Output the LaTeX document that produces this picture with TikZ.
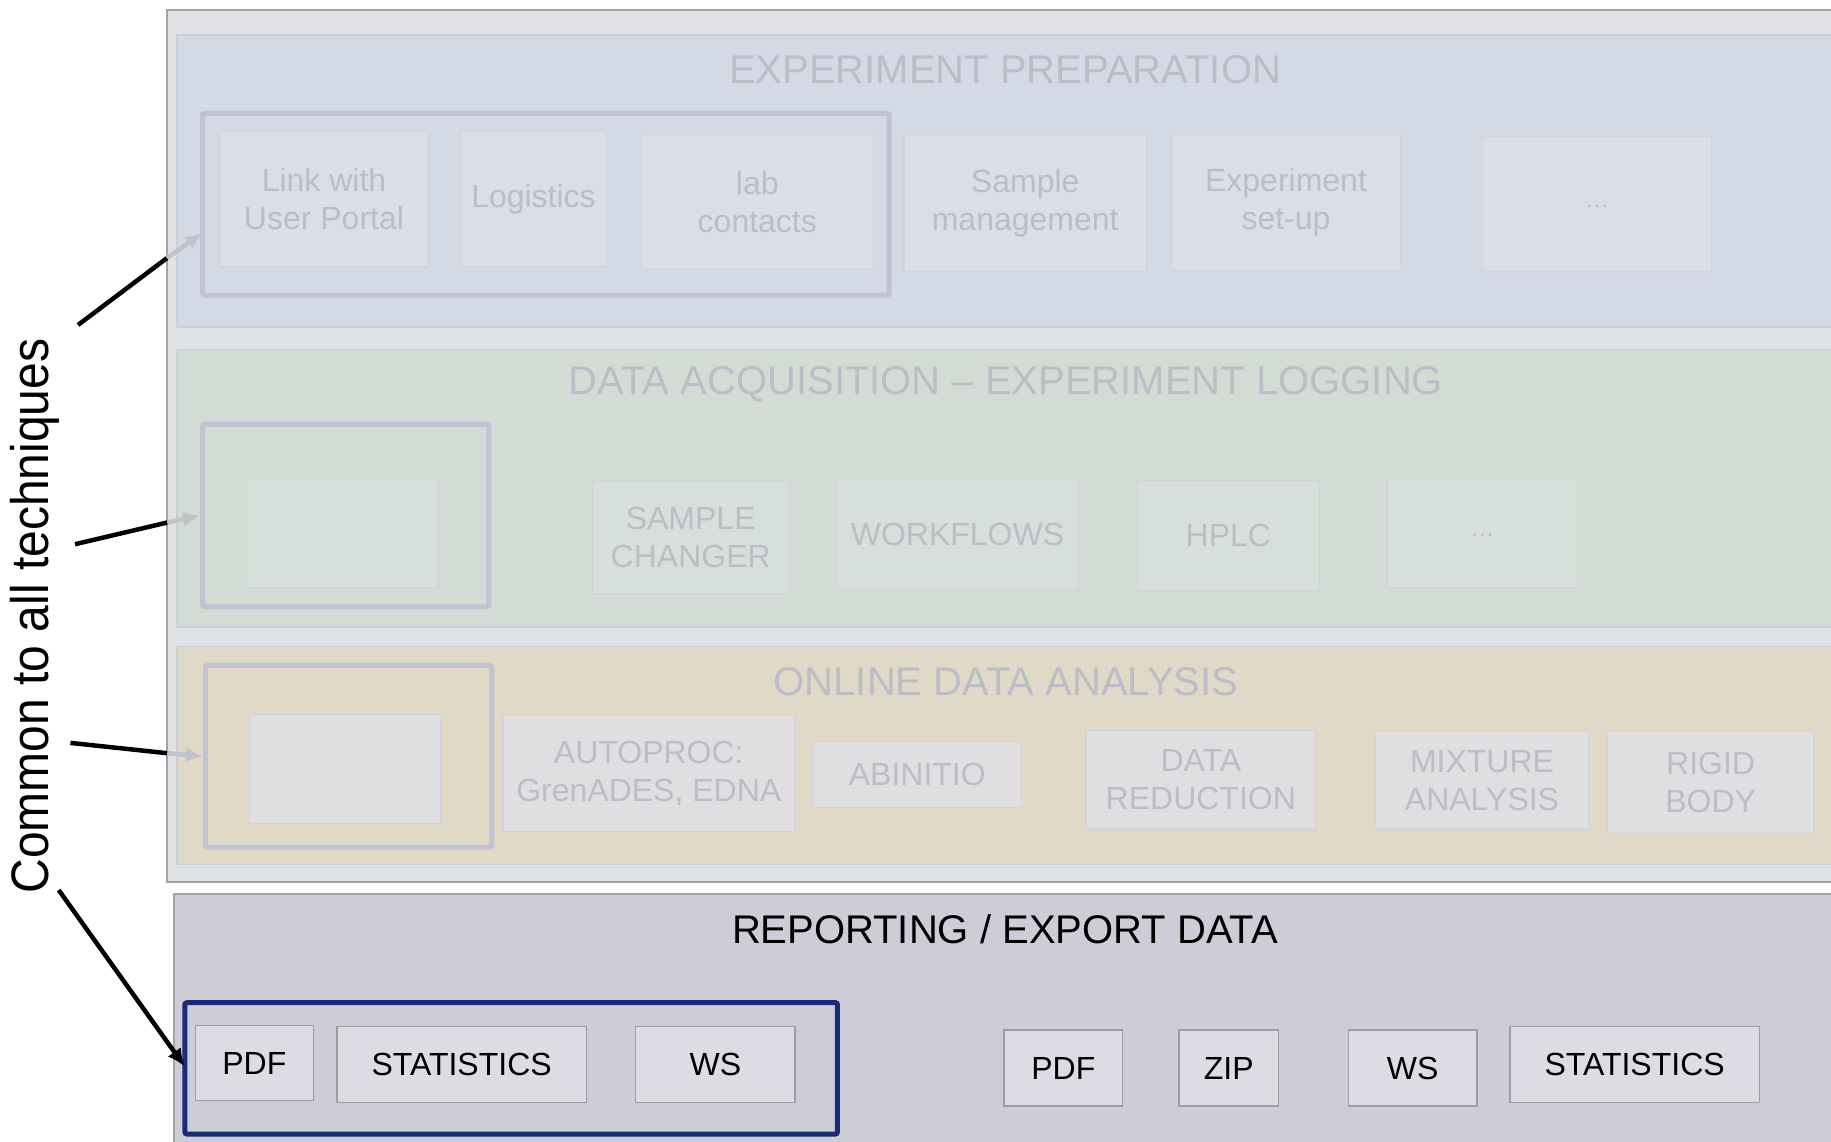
\documentclass[tikz,border=0pt]{standalone}
\usepackage{fontspec}
\setmainfont{Liberation Sans}
\usetikzlibrary{arrows.meta}
\definecolor{outerfill}{HTML}{E1E2E6}
\definecolor{outerline}{HTML}{A3A4A8}
\definecolor{prepfill}{HTML}{D3DAE6}
\definecolor{acqfill}{HTML}{D3DCD4}
\definecolor{anafill}{HTML}{E0D9C7}
\definecolor{repfill}{HTML}{CDCDD8}
\definecolor{secline}{HTML}{CAD0D8}
\definecolor{pboxfill}{HTML}{DADFE6}
\definecolor{aboxfill}{HTML}{D6DFDA}
\definecolor{nboxfill}{HTML}{E0DEE0}
\definecolor{rboxfill}{HTML}{DCDCE4}
\definecolor{fboxline}{HTML}{D0D4DC}
\definecolor{fadetext}{HTML}{BCBDC6}
\definecolor{fadeframe}{HTML}{BFC3D4}
\definecolor{fadearrow}{HTML}{C2C3C8}
\definecolor{darkframe}{HTML}{1B2A78}
\definecolor{rboxline}{HTML}{9C9CA2}
\begin{document}
\begin{tikzpicture}[x=1pt,y=-1pt,
  title/.style={font=\fontsize{40}{46}\selectfont, inner sep=0pt},
  fadebox/.style={draw=fboxline, line width=1.2pt, text=fadetext, align=center, inner sep=0pt,
    font=\fontsize{32}{38}\selectfont},
  pbox/.style={fadebox, fill=pboxfill},
  abox/.style={fadebox, fill=aboxfill},
  nbox/.style={fadebox, fill=nboxfill},
  rbox/.style={draw=rboxline, line width=1.5pt, fill=rboxfill, text=black, align=center, inner sep=0pt,
    font=\fontsize{32}{38}\selectfont},
  fframe/.style={draw=fadeframe, line width=5pt, rounded corners=2pt, inner sep=0pt},
  dframe/.style={draw=darkframe, line width=5pt, rounded corners=2pt, inner sep=0pt},
  blackline/.style={line width=4.5pt, black},
  fadearr/.style={line width=4.5pt, fadearrow, -{Latex[length=17pt,width=15pt]}},
]
\useasboundingbox (0,0) rectangle (1831,1142);
\fill[white] (0,0) rectangle (1831,1142);

% outer panel
\fill[outerfill] (167,10) rectangle (1835,882);
\draw[outerline, line width=1.5pt] (1835,10) -- (167,10) -- (167,882) -- (1835,882);
% sections
\fill[prepfill] (177,35) rectangle (1835,327);
\draw[secline, line width=1.5pt] (1835,35) -- (177,35) -- (177,327) -- (1835,327);
\fill[acqfill] (177,349.3) rectangle (1835,626.8);
\draw[secline, line width=1.5pt] (1835,349.3) -- (177,349.3) -- (177,626.8) -- (1835,626.8);
\fill[anafill] (177,646.5) rectangle (1835,864.4);
\draw[secline, line width=1.5pt] (1835,646.5) -- (177,646.5) -- (177,864.4) -- (1835,864.4);
\fill[repfill] (174,894) rectangle (1835,1146);
\draw[outerline, line width=1.5pt] (1835,894) -- (174,894) -- (174,1146);

% titles
\node[title, text=fadetext] (tprep) at (1005,70) {EXPERIMENT PREPARATION};
\node[title, text=fadetext] (tacq) at (1006,384) {DATA ACQUISITION -- EXPERIMENT LOGGING};
\node[title, text=fadetext] (tana) at (1006,682) {ONLINE DATA ANALYSIS};
\node[title, text=black] (trep) at (1005,929.5) {REPORTING / EXPORT DATA};

% frames
\node[fframe, minimum width=686.5pt, minimum height=181.7pt] (f1) at (545.75,204.15) {};
\node[fframe, minimum width=286.3pt, minimum height=182.5pt] (f2) at (345.65,515.65) {};
\node[fframe, minimum width=286.4pt, minimum height=181.8pt] (f3) at (348.6,756.3) {};

% prep boxes
\node[pbox, minimum width=210pt, minimum height=135.3pt] (link) at (324,199.4) {Link with\\User Portal};
\node[pbox, minimum width=145.5pt, minimum height=135.3pt] (logi) at (533.5,199.4) {Logistics};
\node[pbox, minimum width=231.8pt, minimum height=135pt] (lab) at (757.3,201.8) {lab\\contacts};
\node[pbox, minimum width=242.4pt, minimum height=135.6pt] (samp) at (1025.2,203.5) {Sample\\management};
\node[pbox, minimum width=229.2pt, minimum height=135.6pt] (expt) at (1286,202.5) {Experiment\\set-up};
\node[pbox, minimum width=229.3pt, minimum height=135.7pt, font=\fontsize{24}{28}\selectfont] (pdots) at (1597.1,204.2) {\raisebox{-6pt}{\ldots}};

% acquisition boxes
\node[abox, minimum width=191.3pt, minimum height=108.1pt] (aempty) at (343.4,533.9) {};
\node[abox, minimum width=196pt, minimum height=112.9pt] (sc) at (690.7,537.6) {SAMPLE\\CHANGER};
\node[abox, minimum width=242.4pt, minimum height=109.1pt] (wf) at (957.5,534) {WORKFLOWS};
\node[abox, minimum width=181.7pt, minimum height=110.8pt] (hplc) at (1228.4,535.6) {HPLC};
\node[abox, minimum width=190.7pt, minimum height=108.4pt, font=\fontsize{24}{28}\selectfont] (adots) at (1482.3,533.7) {\raisebox{-6pt}{\ldots}};

% analysis boxes
\node[nbox, minimum width=190.7pt, minimum height=108.4pt] (nempty) at (344.8,768.9) {};
\node[nbox, minimum width=291.6pt, minimum height=116.4pt] (autop) at (648.8,773.5) {AUTOPROC:\\GrenADES, EDNA};
\node[nbox, minimum width=208.9pt, minimum height=66.1pt] (abin) at (917.3,774.3) {ABINITIO};
\node[nbox, minimum width=229.8pt, minimum height=98.8pt] (dred) at (1200.8,779.6) {DATA\\REDUCTION};
\node[nbox, minimum width=212.5pt, minimum height=97.5pt] (mix) at (1482,780.3) {MIXTURE\\ANALYSIS};
\node[nbox, minimum width=206.7pt, minimum height=100.9pt] (rigid) at (1710.6,782) {RIGID\\BODY};

% reporting
\node[dframe, minimum width=652.5pt, minimum height=131.3pt] (f4) at (511.15,1068.35) {};
\node[rbox, minimum width=118pt, minimum height=75.4pt] (pdfa) at (254.4,1063) {PDF};
\node[rbox, minimum width=249.4pt, minimum height=75.6pt] (stata) at (461.6,1064.5) {STATISTICS};
\node[rbox, minimum width=159.6pt, minimum height=75.6pt] (wsa) at (715.4,1064.5) {WS};
\node[rbox, minimum width=118.8pt, minimum height=76pt] (pdfb) at (1063.3,1068) {PDF};
\node[rbox, minimum width=99.2pt, minimum height=76pt] (zip) at (1228.7,1068) {ZIP};
\node[rbox, minimum width=128.9pt, minimum height=76pt] (wsb) at (1412.7,1068) {WS};
\node[rbox, minimum width=249.4pt, minimum height=75.6pt] (statb) at (1634.6,1064.5) {STATISTICS};

% side label
\node[rotate=90, inner sep=0pt, font=\fontsize{48}{52}\selectfont] (common) at (35,616) {\scalebox{1}[1.1]{Common to all techniques}};

% arrows
\coordinate (s1) at (78,325);
\coordinate (e1) at (167,258);
\coordinate (t1) at (202.5,233);
\coordinate (s2) at (75.1,544.2);
\coordinate (e2) at (167.3,522.5);
\coordinate (s3) at (70.4,742.9);
\coordinate (e3) at (167.3,753.2);
\coordinate (s4) at (58.7,890);
\coordinate (t4) at (184.9,1066.7);
\draw[blackline] (s1) -- (e1);
\draw[fadearr] (e1) -- (t1);
\draw[blackline] (s2) -- (e2);
\draw[fadearr] (e2) -- (f2.west);
\draw[blackline] (s3) -- (e3);
\draw[fadearr] (e3) -- (f3.west);
\draw[blackline, -{Latex[length=18pt,width=16pt]}] (s4) -- (t4);
\end{tikzpicture}
\end{document}
